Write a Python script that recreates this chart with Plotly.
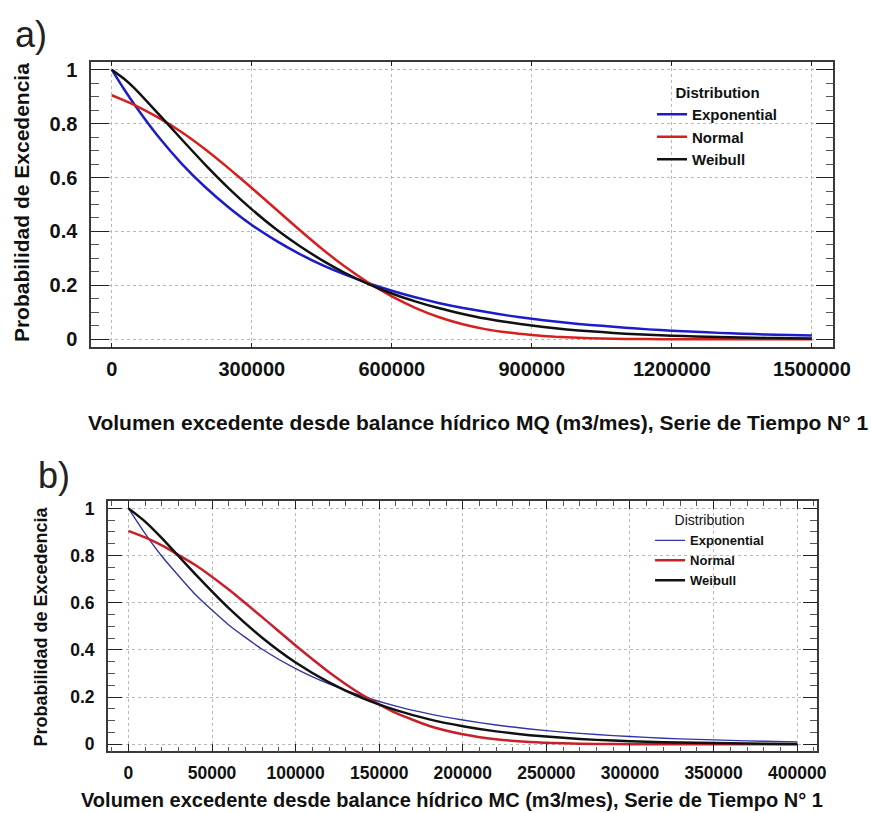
import plotly.graph_objects as go

# ---------------- data ----------------
# Panel a) : MQ
top_x = [0, 25000, 50000, 100000, 150000, 200000, 250000, 300000, 350000, 400000, 450000,
         500000, 550000, 600000, 650000, 700000, 750000, 800000, 850000, 900000, 950000,
         1000000, 1050000, 1100000, 1150000, 1200000, 1250000, 1300000, 1350000, 1400000,
         1450000, 1500000]
top_exponential = [1.0, 0.931, 0.867, 0.751, 0.651, 0.565, 0.490, 0.424, 0.368, 0.319, 0.276,
                   0.240, 0.208, 0.180, 0.156, 0.135, 0.117, 0.102, 0.088, 0.076, 0.066,
                   0.057, 0.050, 0.043, 0.037, 0.032, 0.028, 0.024, 0.021, 0.018, 0.016, 0.014]
top_normal = [0.905, 0.887, 0.868, 0.822, 0.768, 0.705, 0.635, 0.561, 0.485, 0.409, 0.336,
              0.269, 0.210, 0.159, 0.117, 0.083, 0.057, 0.038, 0.025, 0.016, 0.0095,
              0.0056, 0.0032, 0.0017, 0.0009, 0.0005, 0.0002, 0.0001, 0.0, 0.0, 0.0, 0.0]
top_weibull = [1.0, 0.968, 0.929, 0.836, 0.741, 0.648, 0.561, 0.482, 0.411, 0.349, 0.294,
               0.246, 0.205, 0.170, 0.141, 0.116, 0.095, 0.077, 0.063, 0.051, 0.041,
               0.033, 0.027, 0.021, 0.017, 0.0136, 0.0108, 0.0085, 0.0067, 0.0053, 0.0042, 0.0033]

# Panel b) : MC
bot_x = [0, 10000, 20000, 40000, 60000, 80000, 100000, 120000, 140000, 160000, 180000, 200000,
         220000, 240000, 260000, 280000, 300000, 320000, 340000, 360000, 380000, 400000]
bot_exponential = [1.0, 0.893, 0.797, 0.635, 0.506, 0.403, 0.321, 0.256, 0.204, 0.162, 0.129, 0.103,
                   0.082, 0.065, 0.052, 0.0415, 0.033, 0.026, 0.021, 0.0167, 0.0133, 0.0106]
bot_normal = [0.905, 0.877, 0.843, 0.760, 0.656, 0.539, 0.419, 0.306, 0.209, 0.133, 0.078, 0.043,
              0.0216, 0.0100, 0.0043, 0.0017, 0.0006, 0.0002, 0.0001, 0.0, 0.0, 0.0]
bot_weibull = [1.0, 0.944, 0.874, 0.721, 0.577, 0.452, 0.347, 0.263, 0.196, 0.145, 0.106, 0.077,
               0.055, 0.039, 0.0275, 0.019, 0.0133, 0.0092, 0.0063, 0.0043, 0.0029, 0.002]

series_names = ["Exponential", "Normal", "Weibull"]

top_xticks = [0, 300000, 600000, 900000, 1200000, 1500000]
top_xticklabels = ["0", "300000", "600000", "900000", "1200000", "1500000"]
bot_xticks = [0, 50000, 100000, 150000, 200000, 250000, 300000, 350000, 400000]
bot_xticklabels = ["0", "50000", "100000", "150000", "200000", "250000", "300000", "350000", "400000"]
yticks = [0, 0.2, 0.4, 0.6, 0.8, 1]
yticklabels = ["0", "0.2", "0.4", "0.6", "0.8", "1"]

top_xtitle = "Volumen excedente desde balance hídrico MQ (m3/mes), Serie de Tiempo N° 1"
bot_xtitle = "Volumen excedente desde balance hídrico MC (m3/mes), Serie de Tiempo N° 1"
ytitle = "Probabilidad de Excedencia"

# ---------------- styling ----------------
FONT = "Liberation Sans, Arial, sans-serif"
W, H = 871, 813
top_colors = ["#1c1cc8", "#d62020", "#111111"]
top_widths = [2.5, 2.5, 2.5]
bot_colors = ["#3434a6", "#c8202a", "#111111"]
bot_widths = [1.4, 2.5, 2.5]

fig = go.Figure()
for name, vals, c, w in zip(series_names, [top_exponential, top_normal, top_weibull], top_colors, top_widths):
    fig.add_trace(go.Scatter(x=top_x, y=vals, mode="lines", name=name,
                             line=dict(color=c, width=w, shape="spline", smoothing=0.5),
                             xaxis="x", yaxis="y", legend="legend"))
for name, vals, c, w in zip(series_names, [bot_exponential, bot_normal, bot_weibull], bot_colors, bot_widths):
    fig.add_trace(go.Scatter(x=bot_x, y=vals, mode="lines", name=name,
                             line=dict(color=c, width=w, shape="spline", smoothing=0.5),
                             xaxis="x2", yaxis="y2", legend="legend2"))


def px_x(p):
    return p / W


def px_y(p):
    return 1 - p / H


axis_common = dict(showgrid=True, gridcolor="#b8b8b8", griddash="dot", gridwidth=1,
                   showline=True, linecolor="#3a3a3a", linewidth=1.5, mirror="allticks",
                   ticks="inside", tickcolor="#222222", zeroline=False,
                   tickmode="array")

fig.update_layout(
    width=W, height=H,
    margin=dict(l=0, r=0, t=0, b=0),
    paper_bgcolor="white", plot_bgcolor="white",
    font=dict(family=FONT, color="#111111"),
    xaxis=dict(domain=[px_x(93), px_x(850)], anchor="y", range=[-44100, 1546000],
               tickvals=top_xticks, ticktext=top_xticklabels, ticklen=5,
               tickfont=dict(size=20, weight="bold"), ticklabelstandoff=3, **axis_common),
    yaxis=dict(domain=[px_y(347), px_y(59)], anchor="x", range=[-0.03, 1.03],
               tickvals=yticks, ticktext=yticklabels, ticklen=18,
               minor=dict(dtick=0.05, tick0=0, ticks="inside", ticklen=8, tickcolor="#555555", showgrid=False),
               tickfont=dict(size=20, weight="bold"), ticklabelstandoff=8, **axis_common),
    xaxis2=dict(domain=[px_x(110), px_x(833)], anchor="y2", range=[-12300, 411700],
                tickvals=bot_xticks, ticktext=bot_xticklabels, ticklen=8,
                minor=dict(dtick=10000, tick0=0, ticks="inside", ticklen=5, tickcolor="#555555", showgrid=False),
                tickfont=dict(size=17.5, weight="bold"), ticklabelstandoff=5, **axis_common),
    yaxis2=dict(domain=[px_y(754), px_y(502)], anchor="x2", range=[-0.03, 1.03],
                tickvals=yticks, ticktext=yticklabels, ticklen=14,
                minor=dict(dtick=0.05, tick0=0, ticks="inside", ticklen=7, tickcolor="#555555", showgrid=False),
                tickfont=dict(size=17.5, weight="bold"), ticklabelstandoff=8, **axis_common),
    legend=dict(x=px_x(665), y=px_y(76), xanchor="left", yanchor="top",
                bgcolor="rgba(0,0,0,0)", borderwidth=0,
                title=dict(text="Distribution", side="top center",
                           font=dict(size=15, weight="bold", family=FONT)),
                font=dict(size=15, weight="bold", family=FONT), tracegroupgap=0),
    legend2=dict(x=px_x(663), y=px_y(508), xanchor="left", yanchor="top",
                 bgcolor="rgba(0,0,0,0)", borderwidth=0,
                 title=dict(text="Distribution", side="top center",
                            font=dict(size=14, weight="normal", family=FONT)),
                 font=dict(size=13, weight="bold", family=FONT), tracegroupgap=0),
    annotations=[
        dict(text=top_xtitle, x=px_x(488), y=px_y(423), xref="paper", yref="paper",
             xanchor="center", yanchor="middle", showarrow=False,
             font=dict(size=21, weight="bold", family=FONT)),
        dict(text=bot_xtitle, x=px_x(461), y=px_y(803), xref="paper", yref="paper",
             xanchor="center", yanchor="middle", showarrow=False,
             font=dict(size=20, weight="bold", family=FONT)),
        dict(text=ytitle, x=px_x(22), y=px_y(201), xref="paper", yref="paper",
             xanchor="center", yanchor="middle", showarrow=False, textangle=-90,
             font=dict(size=21, weight="bold", family=FONT)),
        dict(text=ytitle, x=px_x(42), y=px_y(628), xref="paper", yref="paper",
             xanchor="center", yanchor="middle", showarrow=False, textangle=-90,
             font=dict(size=18, weight="bold", family=FONT)),
        dict(text="a)", x=px_x(32), y=px_y(32), xref="paper", yref="paper",
             xanchor="center", yanchor="middle", showarrow=False,
             font=dict(size=36, family=FONT, color="#222222")),
        dict(text="b)", x=px_x(55), y=px_y(476), xref="paper", yref="paper",
             xanchor="center", yanchor="middle", showarrow=False,
             font=dict(size=36, family=FONT, color="#222222")),
    ],
)

fig.write_html("out.html")
